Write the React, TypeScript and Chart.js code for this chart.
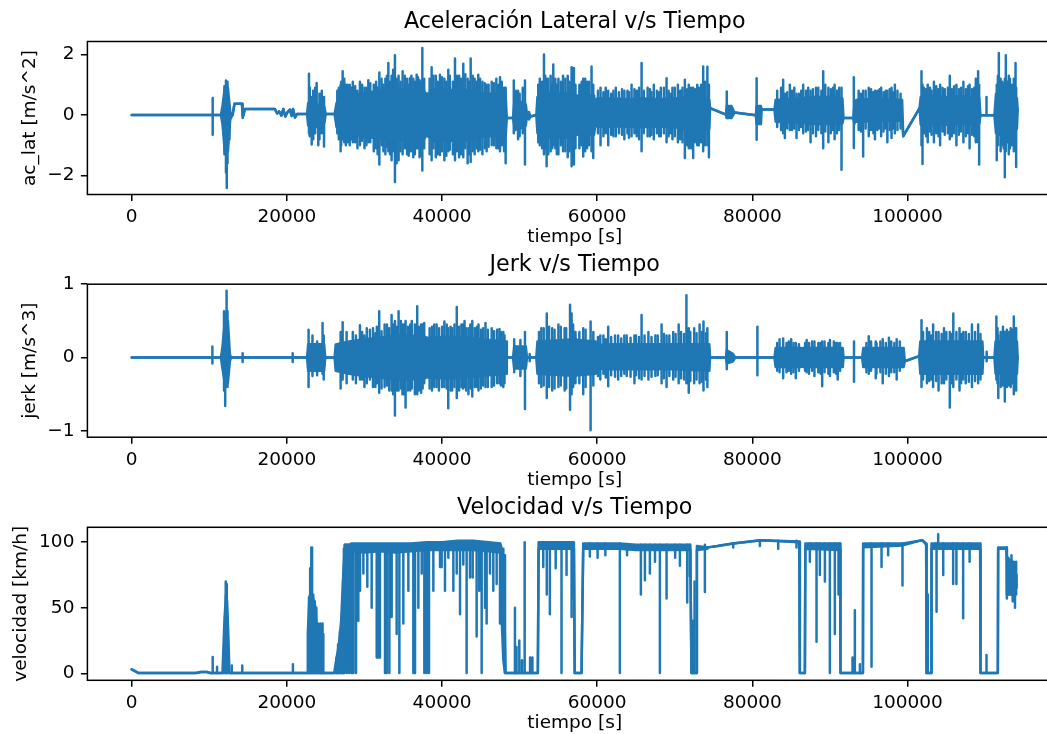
import React, { useEffect, useRef } from "react";
import { Chart, registerables } from "chart.js";

Chart.register(...registerables);

const BLUE = "#1f77b4";
const FONT = "'DejaVu Sans', sans-serif";

// ---------- tick labels ----------
const xTicks = [0, 20000, 40000, 60000, 80000, 100000];
const acTicks = [-2, 0, 2];
const jerkTicks = [-1, 0, 1];
const velTicks = [0, 50, 100];

// ---------- Aceleración lateral: dense body envelope [t, high, low] ----------
const acBody: number[][] = [
  [0, 0, 0], [10300, 0, 0], [10700, 0, 0], [11500, 0, 0], [11700, 0.3, -0.3],
  [12000, 0.9, -1.2], [12400, 0.9, -1.2], [12700, 0.1, -0.15], [13000, 0, 0],
  [13250, 0.37, 0.37], [14200, 0.37, 0.37], [14350, -0.05, -0.05], [14600, 0.2, 0.2],
  [18450, 0.2, 0.2], [18750, 0.05, 0.05], [19000, 0.12, 0.12], [19300, -0.02, -0.02],
  [19540, 0.2, 0.2], [19800, -0.05, -0.05], [20100, 0.1, 0.1], [20400, 0.18, 0.18],
  [20620, -0.03, -0.03], [20800, 0.2, 0.2], [21050, -0.08, -0.08], [21300, 0.03, 0.03],
  [22600, 0.03, 0.03], [22750, 0.4, -0.35], [23500, 0.4, -0.4], [24300, 0.3, -0.3],
  [24850, 0.25, -0.25], [25000, 0.03, 0.03], [26150, 0.03, 0.03], [26400, 0.4, -0.4],
  [27200, 0.6, -0.65], [28000, 0.55, -0.55], [28600, 0.65, -0.65], [29500, 0.7, -0.7],
  [30500, 0.75, -0.72], [31500, 0.78, -0.78], [32500, 0.82, -0.82], [33500, 0.85, -0.85],
  [34500, 0.85, -0.85], [35500, 0.82, -0.82], [36500, 0.85, -0.82], [37500, 0.85, -0.85],
  [37950, 0.7, -0.7], [38050, 0.1, -0.1], [38150, 0.7, -0.7], [39000, 0.85, -0.85],
  [40000, 0.85, -0.82], [41000, 0.82, -0.85], [42000, 0.85, -0.85], [43000, 0.82, -0.85],
  [44000, 0.78, -0.78], [45000, 0.72, -0.72], [46000, 0.7, -0.7], [47000, 0.7, -0.7],
  [48200, 0.65, -0.7], [48350, -0.1, -0.1], [49150, -0.1, -0.1], [49300, 0.4, -0.35],
  [50000, 0.45, -0.45], [50800, 0.35, -0.35], [50950, 0, 0], [51200, 0.1, -0.15],
  [51400, -0.05, -0.05], [52150, 0, 0], [52300, 0.6, -0.6], [53500, 0.75, -0.75],
  [55000, 0.7, -0.75], [56500, 0.75, -0.75], [57300, 0.65, -0.65], [57400, 0.3, -0.3],
  [57500, 0.65, -0.65], [59600, 0.65, -0.65], [59750, 0.35, -0.35], [60000, 0.55, -0.38],
  [62000, 0.55, -0.38], [64000, 0.52, -0.38], [66000, 0.55, -0.4], [68000, 0.52, -0.38],
  [70000, 0.55, -0.4], [71500, 0.6, -0.5], [73000, 0.6, -0.55], [74450, 0.5, -0.45],
  [74550, 0.23, 0.23], [76600, 0.01, 0.01], [76700, 0.3, -0.1], [77300, 0.3, -0.1],
  [77700, 0.08, 0.08], [80450, -0.01, -0.01], [80550, 0.3, -0.3], [81100, 0.3, -0.3],
  [81200, 0.18, 0.18], [82850, 0.18, 0.18], [83000, 0.5, -0.22], [86000, 0.55, -0.25],
  [88000, 0.6, -0.3], [90000, 0.6, -0.3], [91600, 0.55, -0.28], [91750, -0.1, -0.1],
  [93000, -0.1, -0.1], [93150, 0.3, -0.3], [93250, -0.05, -0.05], [93400, 0.5, -0.22],
  [96000, 0.55, -0.2], [99300, 0.5, -0.18], [99450, -0.7, -0.7], [101550, 0.23, 0.23],
  [101700, 0.6, -0.32], [103000, 0.62, -0.3], [105000, 0.6, -0.32], [107000, 0.62, -0.3],
  [109250, 0.55, -0.28], [109400, -0.01, -0.01], [111200, -0.01, -0.01], [111400, 0.7, -0.6],
  [112500, 0.8, -0.7], [113500, 0.75, -0.65], [114100, 0.55, -0.45], [114200, 0.18, 0.18],
];

// ---------- Aceleración lateral: tallest spikes [t, high, low] ----------
const acSpikes: number[][] = [
  [10440, 0.56, -0.65], [11800, 0.5, -0.6], [11950, 0.95, -1.3], [12150, 1.14, -1.9],
  [12250, 1.05, -2.42], [12350, 1.1, -1.6], [12600, 0.3, -0.8], [14300, 0.37, -0.1],
  [22850, 1.37, -0.6], [23200, 0.6, -0.98], [23840, 1.06, -0.4], [24050, 0.3, -1.0],
  [24790, 0.6, -1.04], [26500, 0.8, -0.6], [26930, 1.0, -1.2], [27190, 1.45, -0.8],
  [27600, 1.0, -1.0], [28300, 0.9, -0.8], [29420, 1.1, -1.0], [30000, 0.9, -1.1],
  [30500, 1.15, -0.9], [31200, 1.0, -1.2], [31920, 1.41, -1.64], [32700, 1.2, -1.3],
  [33080, 1.72, -1.2], [33500, 1.3, -1.5], [33930, 1.98, -2.22], [34400, 1.3, -1.5],
  [34920, 1.45, -1.3], [35500, 1.2, -1.3], [35870, 1.22, -1.2], [36300, 1.2, -1.4],
  [36730, 1.33, -1.1], [37100, 1.15, -1.4], [37460, 2.22, -1.84], [38660, 1.58, -1.5],
  [39200, 1.3, -1.4], [39730, 1.33, -1.32], [40300, 1.2, -1.5], [40810, 1.5, -1.2],
  [41670, 1.87, -1.5], [42200, 1.3, -1.4], [42740, 1.7, -1.4], [43300, 1.2, -1.6],
  [43690, 1.87, -1.56], [44200, 1.2, -1.3], [44670, 1.33, -1.2], [45200, 1.1, -1.3],
  [45750, 1.0, -1.2], [46400, 1.1, -1.0], [47000, 1.2, -1.1], [47470, 1.25, -1.2],
  [48200, 0.9, -1.6], [49250, 1.14, -0.6], [49800, 0.8, -0.8], [50690, 1.14, -1.64],
  [52600, 1.2, -1.0], [53140, 2.0, -1.3], [53480, 1.2, -1.7], [54000, 1.3, -1.2],
  [54340, 1.67, -1.0], [55000, 1.2, -1.3], [55600, 1.3, -1.2], [56200, 1.3, -1.4],
  [56700, 1.58, -1.7], [57000, 1.56, -1.64], [58200, 1.2, -1.37], [58700, 1.1, -1.1],
  [59270, 1.61, -1.2], [59490, 1.0, -1.42], [60430, 0.9, -1.0], [61420, 0.8, -1.0],
  [62400, 0.9, -0.7], [63500, 0.8, -0.8], [64430, 1.0, -0.7], [65720, 1.72, -1.2],
  [66500, 0.9, -0.7], [67300, 1.0, -0.8], [68200, 0.9, -0.7], [68940, 1.22, -0.9],
  [69700, 0.9, -0.8], [70400, 1.0, -0.9], [71300, 1.17, -1.42], [71800, 1.0, -1.1],
  [72370, 0.9, -1.42], [72900, 1.0, -1.0], [73660, 1.61, -1.2], [74200, 1.6, -1.0],
  [74400, 1.0, -1.4], [76700, 0.78, -0.1], [80550, 1.22, -0.82], [83970, 1.17, -0.6],
  [84190, 0.7, -0.76], [84830, 1.0, -0.5], [85690, 0.7, -0.76], [86550, 1.0, -0.6],
  [87500, 0.8, -0.9], [88200, 0.9, -0.7], [89130, 1.45, -1.1], [89800, 0.9, -0.9],
  [90600, 1.0, -0.8], [91490, 0.9, -1.81], [93080, 1.25, -1.09], [94280, 0.8, -1.37],
  [95000, 0.9, -0.7], [95800, 0.8, -0.8], [96600, 0.9, -0.7], [97400, 0.8, -0.9],
  [97940, 0.9, -0.76], [98370, 1.0, -0.6], [101800, 1.45, -1.0], [101930, 1.0, -1.62],
  [102600, 1.0, -0.9], [103400, 1.1, -0.9], [104200, 1.0, -1.0], [105450, 1.3, -0.8],
  [106300, 1.0, -1.0], [107200, 1.1, -0.9], [108000, 1.0, -1.1], [108800, 1.2, -0.9],
  [109100, 1.45, -0.9], [109230, 1.0, -1.64], [110180, 0.6, -0.01], [111500, 1.0, -1.5],
  [111770, 2.05, -0.6], [112200, 1.1, -1.0], [112540, 1.2, -2.06], [112670, 1.98, -1.2],
  [113200, 1.2, -1.1], [113920, 1.72, -1.1], [114000, 0.9, -1.72],
];

// ---------- Aceleración lateral: medium strokes [t, high, low] ----------
const acMinor: number[][] = [
  [22950, 0.9, -0.7], [23400, 0.8, -0.8], [23650, 0.9, -0.6], [24200, 0.7, -0.8], [24500, 0.8, -0.6],
  [26700, 0.9, -0.8], [27000, 1.1, -1.0], [27400, 1.2, -0.9], [27800, 1.0, -0.9], [28100, 1.0, -1.0],
  [28500, 1.1, -0.9], [28800, 0.95, -0.9], [29100, 0.8, -1.1], [29700, 1.0, -0.85], [30250, 0.9, -1.0],
  [30750, 1.05, -0.9], [31500, 1.1, -1.1], [31700, 0.9, -1.3], [32200, 1.2, -1.0], [32450, 1.0, -1.2],
  [32900, 1.3, -1.05], [33300, 1.1, -1.3], [33700, 1.5, -1.2], [34150, 1.2, -1.6], [34650, 1.1, -1.2],
  [35200, 1.3, -1.1], [35700, 1.0, -1.35], [36050, 1.3, -1.2], [36500, 1.1, -1.3], [36900, 1.25, -1.1],
  [37300, 1.1, -1.35], [37700, 1.2, -1.1], [38400, 1.2, -1.3], [38900, 1.3, -1.1], [39450, 1.1, -1.3],
  [40000, 1.25, -1.2], [40550, 1.1, -1.35], [41000, 1.3, -1.15], [41400, 1.1, -1.3], [41900, 1.3, -1.2],
  [42450, 1.2, -1.3], [43000, 1.35, -1.1], [43500, 1.1, -1.3], [43950, 1.3, -1.2], [44450, 1.1, -1.1],
  [44900, 1.2, -1.15], [45500, 1.05, -1.1], [46000, 1.0, -1.05], [46700, 1.05, -1.0], [47250, 1.0, -1.1],
  [47700, 1.1, -1.0], [48000, 0.9, -1.2], [49500, 0.8, -0.5], [50000, 0.7, -0.7], [50400, 0.9, -0.6],
  [52400, 1.0, -0.9], [52900, 1.1, -1.1], [53300, 1.3, -1.1], [53700, 1.2, -1.3], [54200, 1.0, -1.1],
  [54600, 1.2, -1.1], [54800, 1.0, -1.3], [55300, 1.1, -1.0], [55900, 1.2, -1.2], [56450, 1.1, -1.2],
  [56900, 1.2, -1.1], [57200, 1.0, -1.1], [57700, 1.0, -1.1], [58000, 1.1, -1.0], [58450, 1.2, -1.2],
  [58950, 1.1, -1.0], [60100, 0.8, -0.6], [60800, 0.75, -0.7], [61100, 0.9, -0.6], [61800, 0.7, -0.65],
  [62100, 0.8, -0.7], [62800, 0.75, -0.6], [63200, 0.85, -0.65], [63900, 0.8, -0.6], [64100, 0.75, -0.75],
  [64800, 0.85, -0.6], [65100, 0.8, -0.7], [65400, 0.9, -0.8], [66000, 0.8, -0.6], [66800, 0.85, -0.7],
  [67000, 0.75, -0.65], [67700, 0.8, -0.6], [68000, 0.75, -0.7], [68600, 0.9, -0.6], [69200, 0.8, -0.7],
  [69500, 0.7, -0.6], [70000, 0.9, -0.7], [70700, 0.8, -0.8], [71000, 0.9, -0.9], [71600, 0.85, -1.0],
  [72100, 0.9, -1.1], [72600, 0.85, -0.9], [73100, 0.9, -1.0], [73400, 1.0, -0.9], [73900, 1.1, -1.0],
  [83200, 0.8, -0.4], [83700, 0.9, -0.5], [84500, 0.75, -0.45], [85100, 0.8, -0.5], [85400, 0.9, -0.45],
  [86000, 0.7, -0.5], [86300, 0.8, -0.4], [86900, 0.8, -0.55], [87200, 0.9, -0.5], [87800, 0.85, -0.6],
  [88500, 0.9, -0.5], [88900, 0.8, -0.6], [89400, 1.0, -0.55], [90100, 0.85, -0.6], [90400, 0.9, -0.5],
  [90900, 0.8, -0.6], [91200, 0.9, -0.5], [93700, 0.8, -0.5], [94000, 0.7, -0.55], [94600, 0.8, -0.45],
  [95300, 0.85, -0.5], [95600, 0.75, -0.6], [96100, 0.8, -0.5], [96400, 0.85, -0.45], [96900, 0.75, -0.55],
  [97200, 0.8, -0.45], [97700, 0.85, -0.5], [98100, 0.75, -0.45], [98700, 0.8, -0.5], [99100, 0.7, -0.45],
  [102100, 0.9, -0.6], [102400, 0.85, -0.7], [102900, 0.9, -0.55], [103100, 0.8, -0.65], [103700, 0.95, -0.6],
  [104000, 0.85, -0.7], [104500, 0.9, -0.55], [104800, 0.85, -0.65], [105200, 0.9, -0.6], [105700, 0.85, -0.7],
  [106000, 0.95, -0.6], [106600, 0.85, -0.65], [106900, 0.9, -0.55], [107500, 0.85, -0.7], [107800, 0.95, -0.6],
  [108300, 0.85, -0.65], [108600, 0.9, -0.7], [111650, 1.3, -1.0], [112000, 1.2, -1.2], [112400, 1.0, -1.1],
  [112850, 1.1, -0.9], [113050, 1.3, -1.3], [113400, 1.0, -1.0], [113700, 1.2, -1.2],
];

// ---------- Jerk: dense body envelope [t, high, low] ----------
const jerkBody: number[][] = [
  [0, 0, 0], [10300, 0, 0], [10550, 0, 0], [11500, 0, 0], [11700, 0.15, -0.15],
  [12000, 0.5, -0.35], [12400, 0.5, -0.35], [12650, 0.05, -0.05], [12800, 0, 0],
  [22600, 0, 0], [22750, 0.18, -0.18], [24800, 0.18, -0.18], [24950, 0, 0], [26150, 0, 0],
  [26300, 0.18, -0.18], [28000, 0.22, -0.22], [30000, 0.25, -0.25], [32000, 0.27, -0.27],
  [34000, 0.3, -0.3], [36000, 0.3, -0.3], [37900, 0.28, -0.28], [38020, 0.03, -0.03],
  [38150, 0.27, -0.27], [40000, 0.28, -0.28], [42000, 0.28, -0.28], [44000, 0.26, -0.26],
  [46000, 0.24, -0.24], [48250, 0.22, -0.22], [48350, 0, 0], [49150, 0, 0],
  [49300, 0.15, -0.15], [50800, 0.15, -0.15], [50950, 0, 0], [52150, 0, 0],
  [52300, 0.22, -0.22], [57300, 0.25, -0.25], [57400, 0.1, -0.1], [57500, 0.24, -0.24],
  [59800, 0.22, -0.22], [59950, 0.17, -0.15], [62000, 0.18, -0.16], [66000, 0.18, -0.16],
  [70000, 0.18, -0.16], [74450, 0.18, -0.18], [74550, 0, 0], [76600, 0, 0],
  [76700, 0.1, -0.08], [77500, 0.05, -0.05], [77800, 0, 0], [80500, 0, 0], [82850, 0, 0],
  [83000, 0.13, -0.13], [86300, 0.13, -0.13], [86400, 0.02, -0.02], [86550, 0.13, -0.13],
  [91650, 0.13, -0.13], [91750, 0, 0], [94150, 0, 0], [94300, 0.13, -0.13],
  [99500, 0.13, -0.13], [99650, -0.05, -0.05], [101500, 0.02, 0.02], [101650, 0.22, -0.22],
  [109650, 0.22, -0.22], [109750, 0, 0], [111200, 0, 0], [111350, 0.22, -0.22],
  [114100, 0.22, -0.22], [114200, 0, 0],
];

// ---------- Jerk: tallest spikes [t, high, low] ----------
const jerkSpikes: number[][] = [
  [10400, 0.15, -0.08], [11900, 0.63, -0.45], [12050, 0.6, -0.66], [12230, 0.91, -0.3],
  [12350, 0.63, -0.4], [14300, 0.06, -0.06], [20750, 0.06, -0.06], [22800, 0.38, -0.4],
  [23300, 0.3, -0.25], [23900, 0.22, -0.24], [24600, 0.47, -0.22], [24750, 0.3, -0.3],
  [26930, 0.35, -0.42], [27190, 0.48, -0.3], [27700, 0.35, -0.35], [29420, 0.44, -0.3],
  [30300, 0.4, -0.35], [31100, 0.4, -0.4], [31900, 0.63, -0.48], [32600, 0.45, -0.4],
  [33500, 0.58, -0.45], [33930, 0.5, -0.79], [34400, 0.63, -0.45], [34900, 0.45, -0.5],
  [35300, 0.5, -0.68], [35900, 0.45, -0.45], [36800, 0.7, -0.5], [37300, 0.45, -0.48],
  [37700, 0.47, -0.35], [38700, 0.42, -0.45], [39300, 0.45, -0.4], [40300, 0.49, -0.4],
  [40800, 0.4, -0.69], [41300, 0.4, -0.45], [41900, 0.69, -0.55], [42500, 0.45, -0.4],
  [42900, 0.5, -0.4], [43400, 0.4, -0.5], [43900, 0.5, -0.53], [44700, 0.45, -0.45],
  [45600, 0.47, -0.4], [46400, 0.4, -0.4], [47400, 0.39, -0.35], [47900, 0.35, -0.4],
  [49300, 0.25, -0.2], [50100, 0.24, -0.25], [50690, 0.35, -0.7], [51300, 0.05, -0.05],
  [52800, 0.4, -0.4], [53500, 0.6, -0.55], [54200, 0.4, -0.45], [55000, 0.45, -0.4],
  [55800, 0.4, -0.45], [56500, 0.72, -0.71], [56700, 0.6, -0.5], [58200, 0.4, -0.5],
  [59150, 0.49, -0.99], [60400, 0.3, -0.3], [61420, 0.42, -0.39], [62700, 0.3, -0.3],
  [63800, 0.3, -0.25], [64800, 0.3, -0.35], [65720, 0.58, -0.3], [66600, 0.35, -0.3],
  [67500, 0.3, -0.25], [68300, 0.45, -0.35], [68940, 0.3, -0.4], [69800, 0.35, -0.3],
  [70500, 0.45, -0.35], [71500, 0.85, -0.35], [71800, 0.4, -0.48], [72500, 0.4, -0.35],
  [73200, 0.45, -0.35], [73700, 0.49, -0.45], [74200, 0.4, -0.4], [76700, 0.35, -0.16],
  [80650, 0.42, -0.24], [83500, 0.25, -0.2], [83970, 0.26, -0.28], [85000, 0.25, -0.22],
  [85600, 0.2, -0.28], [87000, 0.24, -0.2], [88000, 0.22, -0.25], [89000, 0.22, -0.39],
  [90000, 0.24, -0.25], [91000, 0.2, -0.3], [93100, 0.22, -0.33], [95000, 0.29, -0.22],
  [95900, 0.22, -0.28], [96800, 0.25, -0.35], [97600, 0.27, -0.25], [98600, 0.25, -0.3],
  [101800, 0.51, -0.4], [102500, 0.4, -0.35], [103300, 0.45, -0.4], [104000, 0.35, -0.45],
  [104700, 0.4, -0.35], [105450, 0.35, -0.68], [105900, 0.6, -0.4], [106700, 0.4, -0.45],
  [107500, 0.35, -0.35], [108300, 0.45, -0.4], [109100, 0.45, -0.35], [110200, 0.08, -0.05],
  [111450, 0.56, -0.3], [111700, 0.3, -0.55], [112540, 0.35, -0.6], [113300, 0.4, -0.4],
  [113700, 0.56, -0.5], [114000, 0.4, -0.45],
];

// ---------- Jerk: medium strokes [t, high, low] ----------
const jerkMinor: number[][] = [
  [28500, 0.35, -0.3], [28900, 0.3, -0.35], [29700, 0.35, -0.3], [30000, 0.3, -0.4], [30700, 0.38, -0.3],
  [31400, 0.33, -0.4], [31600, 0.42, -0.35], [32200, 0.36, -0.42], [32900, 0.45, -0.38], [33200, 0.4, -0.45],
  [33700, 0.45, -0.5], [34200, 0.42, -0.45], [34700, 0.5, -0.42], [35100, 0.45, -0.5], [35600, 0.42, -0.45],
  [36100, 0.5, -0.42], [36500, 0.45, -0.5], [37000, 0.42, -0.45], [37500, 0.45, -0.42], [38400, 0.4, -0.42],
  [39000, 0.45, -0.4], [39600, 0.4, -0.45], [40000, 0.42, -0.4], [40600, 0.45, -0.42], [41100, 0.42, -0.45],
  [41600, 0.45, -0.4], [42200, 0.42, -0.45], [42700, 0.45, -0.42], [43100, 0.4, -0.45], [43650, 0.45, -0.42],
  [44200, 0.4, -0.4], [44500, 0.42, -0.4], [45000, 0.38, -0.42], [45300, 0.4, -0.38], [45900, 0.38, -0.4],
  [46700, 0.36, -0.38], [47100, 0.38, -0.35], [47600, 0.35, -0.38], [48050, 0.3, -0.35], [52500, 0.35, -0.35],
  [53100, 0.4, -0.38], [53800, 0.42, -0.4], [54500, 0.38, -0.42], [55300, 0.42, -0.38], [56000, 0.4, -0.42],
  [56900, 0.45, -0.4], [57200, 0.35, -0.35], [57700, 0.35, -0.35], [58500, 0.38, -0.4], [59500, 0.35, -0.38],
  [60100, 0.28, -0.25], [60800, 0.3, -0.22], [61100, 0.25, -0.27], [61800, 0.28, -0.24], [62300, 0.3, -0.26],
  [63100, 0.26, -0.25], [63500, 0.3, -0.22], [64300, 0.27, -0.26], [65000, 0.3, -0.24], [65400, 0.28, -0.28],
  [66100, 0.3, -0.25], [67000, 0.28, -0.26], [67800, 0.3, -0.24], [68600, 0.32, -0.28], [69300, 0.3, -0.25],
  [70100, 0.32, -0.26], [70800, 0.35, -0.28], [71200, 0.32, -0.3], [72000, 0.35, -0.32], [72800, 0.33, -0.3],
  [73500, 0.35, -0.33], [74000, 0.33, -0.3], [83200, 0.2, -0.18], [84400, 0.2, -0.2], [84700, 0.22, -0.18],
  [85300, 0.2, -0.2], [86000, 0.18, -0.18], [86800, 0.2, -0.18], [87300, 0.2, -0.22], [87700, 0.22, -0.18],
  [88500, 0.2, -0.2], [88800, 0.2, -0.22], [89300, 0.22, -0.2], [89800, 0.2, -0.22], [90500, 0.22, -0.2],
  [90800, 0.2, -0.22], [91300, 0.2, -0.18], [94700, 0.2, -0.2], [95300, 0.22, -0.18], [96000, 0.2, -0.22],
  [96500, 0.22, -0.2], [97200, 0.2, -0.22], [97900, 0.22, -0.2], [98300, 0.2, -0.2], [99000, 0.22, -0.18],
  [102000, 0.35, -0.3], [102800, 0.35, -0.32], [103100, 0.3, -0.3], [103700, 0.35, -0.32], [104400, 0.32, -0.35],
  [105000, 0.35, -0.3], [105700, 0.32, -0.35], [106300, 0.35, -0.3], [106900, 0.32, -0.35], [107200, 0.35, -0.3],
  [107900, 0.32, -0.33], [108700, 0.35, -0.32], [109400, 0.32, -0.3], [111600, 0.4, -0.35], [112000, 0.35, -0.4],
  [112300, 0.42, -0.38], [112800, 0.38, -0.4], [113100, 0.35, -0.38], [113500, 0.38, -0.35], [113900, 0.4, -0.4],
];

// ---------- Velocidad: base band [t, high, low] ----------
const velBody: number[][] = [
  [0, 3, 3], [900, 0.2, 0.2], [8300, 0.2, 0.2], [8900, 1, 1], [9700, 1, 1], [10100, 0.3, 0.3],
  [11700, 0.3, 0.3], [11950, 40, 0.3], [12150, 60, 0.3], [12300, 55, 0.3], [12450, 30, 0.3],
  [12600, 0.3, 0.3], [22600, 0.3, 0.3], [22700, 30, 0.3], [22900, 58, 0.3], [23100, 62, 0.3],
  [23300, 58, 0.3], [23500, 55, 0.3], [23700, 50, 0.3], [23900, 30, 0.3], [24100, 15, 0.3],
  [24200, 0.3, 0.3], [26100, 0.3, 0.3], [26300, 8, 0.3], [26700, 22, 0.3], [27000, 40, 0.3],
  [27300, 80, 0.3], [27500, 98, 20], [27800, 98, 40], [28000, 98, 10], [28150, 98, 60],
  [28300, 99, 93], [30000, 99, 92], [32000, 99, 93], [34000, 99, 92], [36000, 99, 93],
  [38000, 100, 94], [40000, 100, 94], [42000, 101, 94], [44000, 101, 94], [46000, 100, 93],
  [47500, 99, 92], [47700, 95, 40], [47900, 70, 10], [48100, 30, 0.3], [48200, 0.3, 0.3],
  [52350, 0.3, 0.3], [52450, 100, 95], [57000, 100, 95], [57100, 0.3, 0.3], [57980, 0.3, 0.3],
  [58200, 99, 95], [62850, 99, 95], [65000, 98, 94], [68000, 98, 94], [72000, 98, 94],
  [72150, 0.3, 0.3], [72800, 0.3, 0.3], [72850, 97, 94], [74200, 96, 95], [74300, 96, 96],
  [75500, 97, 97], [77500, 99, 99], [81100, 101.5, 101.5], [86050, 100.5, 100], [86120, 0.3, 0.3],
  [86770, 0.3, 0.3], [86830, 99, 95], [91300, 99, 94], [91360, 0.3, 0.3], [94250, 0.3, 0.3],
  [94280, 99, 96], [99400, 99, 97.5], [101900, 101.5, 101.5], [102400, 99, 98], [102450, 0.3, 0.3],
  [103050, 0.3, 0.3], [103090, 99, 95], [109360, 99, 95], [109410, 0.3, 0.3], [111640, 0.3, 0.3],
  [111680, 96, 95], [112760, 96, 95], [112800, 88, 60], [113500, 85, 60], [114000, 75, 65],
  [114050, 68, 68],
];

// ---------- Velocidad: vertical drops / bursts [t, top, bottom] ----------
const velDrops: number[][] = [
  [10440, 12.4, 0.3], [11000, 5, 0.3], [12120, 70, 0.3], [12250, 68, 0.3], [12900, 6, 0.3],
  [14250, 6, 0.3], [20780, 7, 0.3], [22750, 35, 0.3], [22850, 58, 0.3], [23000, 80, 0.3],
  [23150, 96, 0.3], [23250, 96, 0.3], [23400, 60, 0.3], [23600, 55, 0.3], [23800, 50, 0.3],
  [24000, 38, 0.3], [24300, 38, 0.3], [24600, 38, 0.3], [24700, 30, 0.3], [26400, 12, 0.3],
  [26600, 22, 0.3], [26850, 32, 0.3], [27100, 45, 0.3], [27250, 70, 0.3], [27350, 95, 0.3],
  [27450, 98, 0.3], [27600, 98, 10], [27750, 98, 0.3], [27900, 98, 30], [28050, 98, 0.3],
  [28350, 98, 0.3], [28570, 98, 0.3], [28910, 98, 0.3], [29210, 98, 40], [29430, 98, 63],
  [29860, 98, 76], [30370, 98, 66], [30930, 98, 50], [31580, 98, 12], [31700, 98, 12],
  [31790, 98, 12], [31900, 98, 15], [32000, 98, 12], [32650, 98, 0.3], [32870, 98, 0.3],
  [33210, 98, 0.3], [33510, 98, 43], [34150, 98, 30], [34500, 98, 0.3], [35010, 98, 38],
  [35660, 98, 63], [36300, 98, 0.3], [36520, 98, 0.3], [36950, 98, 50], [37380, 98, 76],
  [37720, 98, 0.3], [38020, 98, 0.3], [38320, 99, 0.3], [38880, 99, 63], [39740, 99, 81],
  [39950, 99, 81], [40380, 99, 63], [40810, 99, 88], [41460, 99, 63], [41890, 100, 76],
  [42320, 100, 45], [42740, 100, 83], [43170, 100, 0.3], [43600, 100, 73], [43950, 100, 73],
  [44460, 100, 28], [44800, 100, 63], [45110, 100, 0.3], [45540, 99, 50], [45750, 99, 38],
  [46180, 99, 76], [46610, 99, 63], [47040, 99, 68], [47470, 99, 38], [47900, 95, 12],
  [48120, 90, 0.3], [49400, 50, 0.3], [49600, 20, 0.3], [49960, 25, 0.3], [50300, 10, 0.3],
  [50650, 100, 0.3], [51350, 12, 0.3], [51650, 12, 0.3], [53050, 100, 81], [53500, 100, 60],
  [53900, 100, 45], [54650, 100, 80], [55400, 100, 0.3], [56050, 100, 75], [56700, 100, 43],
  [56820, 100, 57], [59050, 99, 89], [60050, 99, 88], [61050, 99, 90], [62920, 99, 0.3],
  [63850, 98, 90], [65630, 98, 60], [66150, 98, 71], [66790, 98, 76], [67450, 98, 85],
  [68080, 98, 0.3], [68940, 98, 57], [70050, 98, 88], [70660, 98, 82], [71600, 98, 54],
  [71950, 98, 74], [72300, 40, 0.3], [72550, 70, 0.3], [73880, 98, 62], [77530, 99, 96],
  [80970, 101, 97], [83330, 101, 95], [85690, 101, 96], [87410, 99, 85], [88270, 99, 24],
  [88700, 99, 75], [89350, 99, 70], [89990, 99, 0.3], [90630, 99, 30], [91100, 99, 60],
  [92910, 12, 0.3], [93210, 48, 0.3], [93860, 7, 0.3], [95360, 99, 5], [96650, 99, 81],
  [97500, 99, 90], [99350, 99, 67], [102620, 60, 0.3], [103740, 99, 47], [103950, 106, 95],
  [104600, 99, 75], [105880, 99, 68], [106300, 99, 68], [107170, 99, 42], [108000, 99, 85],
  [110180, 14, 0.3], [112800, 96, 57], [113000, 88, 60], [113400, 90, 60], [113550, 85, 55],
  [113700, 85, 55], [113850, 78, 50], [114000, 85, 60],
];

// ---------- helpers ----------
const fmt = (v: number) => (v < 0 ? "\u2212" + Math.abs(v) : String(v));

const lineStyle = {
  borderColor: BLUE,
  backgroundColor: BLUE,
  borderWidth: 2.5,
  pointRadius: 0,
  tension: 0,
  borderJoinStyle: "round" as const,
  borderCapStyle: "round" as const,
};

function strokeData(rows: number[][]) {
  const pts: { x: number; y: number | null }[] = [];
  rows.forEach((r) => {
    pts.push({ x: r[0], y: r[1] }, { x: r[0], y: r[2] }, { x: r[0], y: null });
  });
  return pts;
}

function envelopeDatasets(body: number[][], ...strokeSets: number[][][]) {
  const hi = body.map((r) => ({ x: r[0], y: r[1] }));
  const lo = body.map((r) => ({ x: r[0], y: r[2] }));
  return [
    { ...lineStyle, data: hi, fill: "+1" },
    { ...lineStyle, data: lo, fill: false },
    ...strokeSets.map((s) => ({ ...lineStyle, data: strokeData(s), fill: false, spanGaps: false })),
  ];
}

const framePlugin = {
  id: "frame",
  afterDatasetsDraw(chart: any) {
    const { ctx, chartArea } = chart;
    ctx.save();
    ctx.strokeStyle = "#000";
    ctx.lineWidth = 1.5;
    ctx.strokeRect(chartArea.left, chartArea.top, chartArea.right - chartArea.left, chartArea.bottom - chartArea.top);
    ctx.restore();
  },
};

const CANVAS_W = 1100;
const AX_LEFT = 87.4;
const AX_RIGHT = 1062;
const AX_H = 153;
const TOP_ROOM = 40;
const X_BOX = 70;

type PanelProps = {
  axTop: number;
  title: string;
  yLabel: string;
  yMin: number;
  yMax: number;
  yTicks: number[];
  yTitlePad: number;
  datasets: any[];
};

function Panel(p: PanelProps) {
  const ref = useRef<HTMLCanvasElement>(null);
  const canvasTop = Math.floor(p.axTop - TOP_ROOM);
  const extra = p.axTop - TOP_ROOM - canvasTop;
  const canvasH = 264;
  useEffect(() => {
    if (!ref.current) return;
    const tickFont = { family: FONT, size: 18.5 };
    const grid = {
      drawOnChartArea: false,
      drawTicks: true,
      tickLength: 6.5,
      tickWidth: 1.5,
      tickColor: "#000",
      color: "#000",
      lineWidth: 1.5,
    };
    const chart = new Chart(ref.current, {
      type: "line",
      data: { datasets: p.datasets },
      options: {
        animation: false,
        responsive: false,
        devicePixelRatio: 1,
        events: [],
        layout: {
          padding: {
            top: 7.66 + extra,
            left: 0,
            right: CANVAS_W - AX_RIGHT,
            bottom: canvasH - X_BOX - (TOP_ROOM + extra + AX_H),
          },
        },
        plugins: {
          legend: { display: false },
          tooltip: { enabled: false },
          title: {
            display: true,
            text: p.title,
            fullSize: false,
            color: "#000",
            font: { family: FONT, size: 22.2, weight: "normal" },
            padding: { top: 0, bottom: 5.7 },
          },
        },
        scales: {
          x: {
            type: "linear",
            min: -5710,
            max: 119910,
            bounds: "data",
            afterBuildTicks: (s: any) => {
              s.ticks = xTicks.map((v) => ({ value: v }));
            },
            afterFit: (s: any) => {
              s.height = X_BOX;
            },
            ticks: {
              autoSkip: false,
              maxRotation: 0,
              minRotation: 0,
              padding: 5.5,
              color: "#000",
              font: tickFont,
              callback: (v: any) => fmt(Number(v)),
            },
            grid,
            border: { display: false },
            title: {
              display: true,
              text: "tiempo [s]",
              color: "#000",
              font: tickFont,
              padding: { top: 0, bottom: 15.9 },
            },
          },
          y: {
            type: "linear",
            min: p.yMin,
            max: p.yMax,
            bounds: "data",
            afterBuildTicks: (s: any) => {
              s.ticks = p.yTicks.map((v) => ({ value: v }));
            },
            afterFit: (s: any) => {
              s.width = AX_LEFT;
            },
            ticks: {
              autoSkip: false,
              padding: 6.5,
              color: "#000",
              font: tickFont,
              callback: (v: any) => fmt(Number(v)),
            },
            grid,
            border: { display: false },
            title: {
              display: true,
              text: p.yLabel,
              color: "#000",
              font: tickFont,
              padding: { top: p.yTitlePad, bottom: 0 },
            },
          },
        },
      } as any,
      plugins: [framePlugin],
    });
    return () => chart.destroy();
  }, []);
  return (
    <canvas
      ref={ref}
      width={CANVAS_W}
      height={canvasH}
      style={{ position: "absolute", left: 0, top: canvasTop, width: CANVAS_W, height: canvasH }}
    />
  );
}

export default function App() {
  return (
    <div
      style={{
        position: "fixed",
        left: 0,
        top: 0,
        width: 1047,
        height: 734,
        overflow: "hidden",
        background: "#fff",
      }}
    >
      <Panel
        axTop={41.5}
        title="Aceleración Lateral v/s Tiempo"
        yLabel="ac_lat [m/s^2]"
        yMin={-2.632}
        yMax={2.434}
        yTicks={acTicks}
        yTitlePad={18.9}
        datasets={envelopeDatasets(acBody, acSpikes, acMinor)}
      />
      <Panel
        axTop={284.2}
        title="Jerk v/s Tiempo"
        yLabel="jerk [m/s^3]"
        yMin={-1.085}
        yMax={1.0}
        yTicks={jerkTicks}
        yTitlePad={18.9}
        datasets={envelopeDatasets(jerkBody, jerkSpikes, jerkMinor)}
      />
      <Panel
        axTop={527.3}
        title="Velocidad v/s Tiempo"
        yLabel="velocidad [km/h]"
        yMin={-5.3}
        yMax={111.3}
        yTicks={velTicks}
        yTitlePad={10.4}
        datasets={envelopeDatasets(velBody, velDrops)}
      />
    </div>
  );
}
